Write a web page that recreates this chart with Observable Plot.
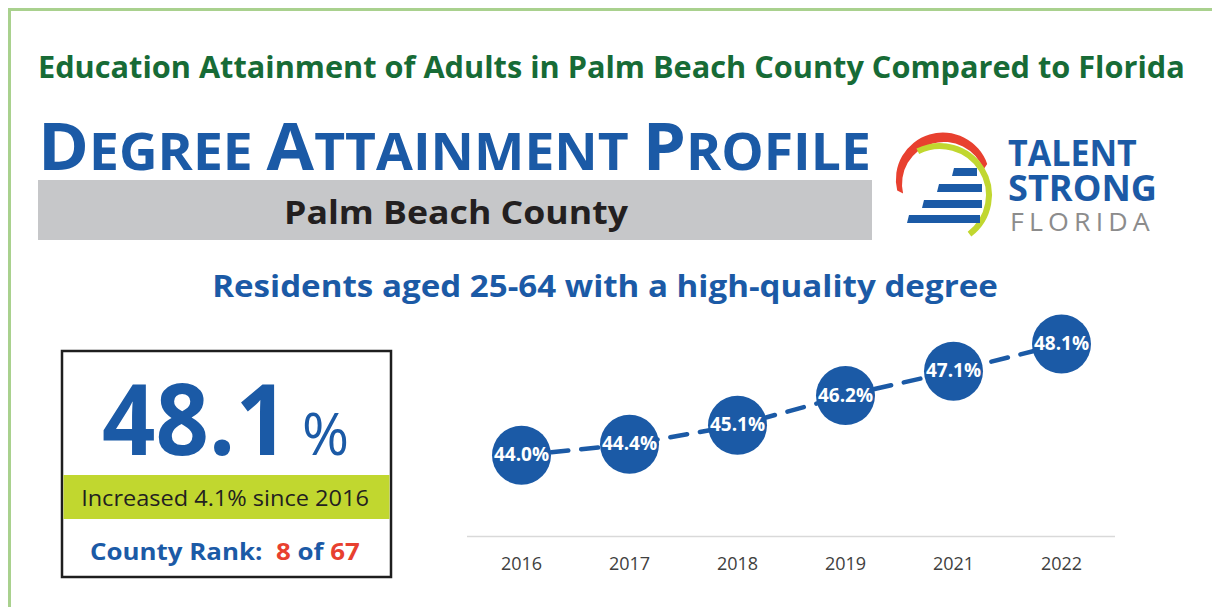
<!DOCTYPE html>
<html>
<head>
<meta charset="utf-8">
<script src="https://cdn.jsdelivr.net/npm/d3@7"></script>
<script src="https://cdn.jsdelivr.net/npm/@observablehq/plot@0.6"></script>
<style>
  html, body { margin: 0; padding: 0; background: #ffffff; }
  body { width: 1212px; height: 607px; position: relative; overflow: hidden; font-family: "Open Sans", sans-serif; }
  #deco { position: absolute; left: 0; top: 0; }
  #chart { position: absolute; left: 440px; top: 310px; }
  .pre { white-space: pre; }
</style>
</head>
<body>
<svg id="deco" width="1212" height="607" xmlns="http://www.w3.org/2000/svg" font-family="Open Sans, sans-serif">
  <!-- page border -->
  <rect x="8" y="8" width="1204" height="3" fill="#a9d18e"/>
  <rect x="8" y="8" width="3" height="599" fill="#a9d18e"/>

  <!-- header -->
  <text id="t-title" x="38" y="78" font-size="31" font-weight="700" fill="#176b36" data-w="1147"></text>
  <text id="t-profile" x="38" y="170" font-weight="700" fill="#1b5aa6" data-w="833"></text>
  <rect x="38" y="180" width="834" height="60" fill="#c6c7c9"/>
  <text id="t-county" x="456" y="224" font-size="32" font-weight="700" fill="#231f20" text-anchor="middle" data-w="345"></text>

  <!-- logo -->
  <path d="M897.2,190.6 A47,47 0 0 1 987.2,163.9 L983.5,169.6 A42,42 0 0 0 903.1,193.4 Z" fill="#e8402f"/>
  <path d="M917.8,151.3 A49,49 0 0 1 969.5,234.1" fill="none" stroke="#c1d72f" stroke-width="6"/>
  <polygon points="954,168 977,168 977,176 952,176" fill="#1b5aa6"/>
  <polygon points="939,184 982,184 982,192 937,192" fill="#1b5aa6"/>
  <polygon points="924,200 982,200 982,208 922,208" fill="#1b5aa6"/>
  <polygon points="909,215 980,215 980,223 907,223" fill="#1b5aa6"/>
  <text x="1008" y="166" font-size="36" font-weight="700" fill="#1b5aa6" data-w="129">TALENT</text>
  <text x="1008" y="201" font-size="36" font-weight="700" fill="#1b5aa6" data-w="149">STRONG</text>
  <text x="1010" y="231" font-size="26" font-weight="400" fill="#8c8c8c" letter-spacing="5" data-w="145">FLORIDA</text>

  <!-- subtitle -->
  <text id="t-sub" x="605" y="297" font-size="30" font-weight="700" fill="#1b5aa6" text-anchor="middle" data-w="786"></text>

  <!-- KPI box -->
  <rect x="62" y="351" width="329" height="226" fill="none" stroke="#1e1e1e" stroke-width="2.5"/>
  <rect x="63.5" y="475" width="326" height="44" fill="#c1d72f"/>
  <text id="t-big" x="102" y="455" font-size="98" font-weight="700" fill="#1b5aa6" data-w="187"></text>
  <text x="302" y="455" font-size="58" font-weight="400" fill="#1b5aa6" data-w="47">%</text>
  <text id="t-inc" x="225" y="506" font-size="22" font-weight="400" fill="#231f20" text-anchor="middle" data-w="288"></text>
  <text id="t-rank" x="90" y="560" font-size="23" font-weight="700" class="pre" data-w="270"></text>
</svg>
<div id="chart"></div>
<script>
// ---- data ----
const headerTitle = "Education Attainment of Adults in Palm Beach County Compared to Florida";
const profileWords = ["Degree", "Attainment", "Profile"];
const countyName = "Palm Beach County";
const subtitle = "Residents aged 25-64 with a high-quality degree";
const years = ["2016", "2017", "2018", "2019", "2021", "2022"];
const rates = [44.0, 44.4, 45.1, 46.2, 47.1, 48.1];
const latestValue = 48.1;
const increaseSince = 4.1;
const baseYear = "2016";
const countyRank = 8;
const countyTotal = 67;

const blue = "#1b5aa6", red = "#e8402f";

// ---- header texts ----
document.getElementById("t-title").textContent = headerTitle;
document.getElementById("t-county").textContent = countyName;
document.getElementById("t-sub").textContent = subtitle;
document.getElementById("t-big").textContent = latestValue.toFixed(1);
document.getElementById("t-inc").textContent = `Increased ${increaseSince}% since ${baseYear}`;

const NS = "http://www.w3.org/2000/svg";
const prof = document.getElementById("t-profile");
profileWords.forEach((w, i) => {
  const a = document.createElementNS(NS, "tspan");
  a.setAttribute("font-size", "67");
  a.textContent = w[0].toUpperCase();
  const b = document.createElementNS(NS, "tspan");
  b.setAttribute("font-size", "52");
  b.textContent = w.slice(1).toUpperCase() + (i < profileWords.length - 1 ? " " : "");
  prof.appendChild(a); prof.appendChild(b);
});

const rank = document.getElementById("t-rank");
[["County Rank:  ", blue], [String(countyRank), red], [" of ", blue], [String(countyTotal), red]].forEach(([t, c]) => {
  const s = document.createElementNS(NS, "tspan");
  s.setAttribute("fill", c);
  s.textContent = t;
  rank.appendChild(s);
});

// ---- chart ----
const data = years.map((year, i) => ({year, rate: rates[i]}));
const chart = Plot.plot({
  width: 700,
  height: 290,
  marginLeft: 27,
  marginRight: 25,
  marginTop: 20,
  marginBottom: 64,
  style: {fontFamily: "Open Sans, sans-serif", background: "transparent", overflow: "visible"},
  x: {type: "point", domain: years, padding: 0.5, label: null},
  y: {domain: [41, 48.6], axis: null},
  marks: [
    Plot.ruleY([41], {stroke: "#d9d9d9", strokeWidth: 1.5}),
    Plot.axisX({tickSize: 0, tickPadding: 21, fontSize: 18, fill: "#404040", label: null}),
    Plot.line(data, {x: "year", y: "rate", stroke: blue, strokeWidth: 4.5, strokeDasharray: "17,13"}),
    Plot.dot(data, {x: "year", y: "rate", r: 29.5, fill: blue}),
    Plot.text(data, {x: "year", y: "rate", text: d => d.rate.toFixed(1) + "%", fill: "white", fontWeight: "bold", fontSize: 19})
  ]
});
document.getElementById("chart").appendChild(chart);

// ---- fit decorative text widths ----
function fitAll() {
  document.querySelectorAll("#deco text[data-w]").forEach(el => {
    el.removeAttribute("transform");
    const target = +el.dataset.w;
    const bb = el.getBBox();
    if (!bb.width) return;
    const s = target / bb.width;
    const x = +el.getAttribute("x");
    el.setAttribute("transform", `translate(${x},0) scale(${s},1) translate(${-x},0)`);
  });
}
fitAll();
if (document.fonts && document.fonts.ready) document.fonts.ready.then(fitAll);
</script>
</body>
</html>
